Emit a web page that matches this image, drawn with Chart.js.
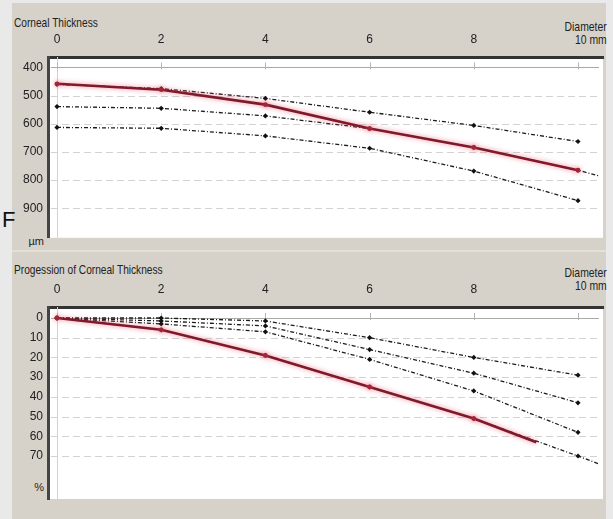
<!DOCTYPE html>
<html>
<head>
<meta charset="utf-8">
<script src="https://cdn.jsdelivr.net/npm/chart.js@4.4.1/dist/chart.umd.min.js"></script>
<style>
  body {
    margin: 0;
    width: 613px;
    height: 519px;
    position: relative;
    overflow: hidden;
    background: #e9e9e9;
    font-family: "Liberation Sans", Arial, sans-serif;
    color: #222;
  }
  #painel { position: absolute; left: 12px; top: 3px; width: 594px; height: 516px; background: #d6d2ca; }
  #separador { position: absolute; left: 12px; top: 250px; width: 594px; height: 2px; background: #e3e0da; }
  canvas { position: absolute; left: 0; }
  #graficoEspessura { top: 0; }
  #graficoProgressao { top: 250px; }
  .titulo { position: absolute; left: 14px; font-size: 13px; transform: scaleX(0.78); transform-origin: 0 0; white-space: nowrap; }
  .diametro { position: absolute; right: 6px; text-align: right; font-size: 13px; line-height: 13px; transform: scaleX(0.8); transform-origin: 100% 0; }
  .unidade { position: absolute; right: 569px; font-size: 11px; }
  #letraF { position: absolute; left: 2px; top: 207px; font: 22px "Liberation Sans", sans-serif; color: #111; }
</style>
</head>
<body>
<div id="painel"></div>
<div id="separador"></div>

<div class="titulo" style="top:15px">Corneal Thickness</div>
<div class="diametro" style="top:20px">Diameter<br>10 mm</div>
<div class="unidade" style="top:235px">µm</div>

<div class="titulo" style="top:262px">Progession of Corneal Thickness</div>
<div class="diametro" style="top:266px">Diameter<br>10 mm</div>
<div class="unidade" style="top:481px">%</div>

<div id="letraF">F</div>

<canvas id="graficoEspessura" width="613" height="250"></canvas>
<canvas id="graficoProgressao" width="613" height="269"></canvas>

<script>
// diametro em mm (eixo x dos dois graficos)
const diametros = [0, 2, 4, 6, 8, 10];
const diametrosExt = [0, 2, 4, 6, 8, 10, 10.4];
const diametrosPaciente = [0, 2, 4, 6, 8, 9.2];
const diametroTicks = [0, 2, 4, 6, 8, 10];

// espessura corneana (µm)
const espessuraTicks = [400, 500, 600, 700, 800, 900];
const espessuraSup = [460, 475, 510, 559, 606, 663];
const espessuraMedia = [539, 545, 572, 617, 684, 765, 785];
const espessuraInf = [613, 616, 643, 687, 768, 873];
const espessuraPaciente = [458, 479, 532, 617, 684, 765];

// progressao da espessura (%)
const progressaoTicks = [0, 10, 20, 30, 40, 50, 60, 70];
const progressaoA = [0, 0, 1.5, 10, 20, 29];
const progressaoB = [0, 1.5, 4, 16, 28, 43];
const progressaoC = [0, 3, 7, 21, 37, 58];
const progressaoD = [0, 6, 19, 35, 51, 70, 74];
const progressaoPaciente = [0, 6, 19, 35, 51, 63];

const fonte = "'Liberation Sans', Arial, sans-serif";

function pontos(xs, ys) {
  return xs.map((x, i) => ({ x: x, y: ys[i] }));
}

function serieTracejada(xs, ys) {
  return {
    data: pontos(xs, ys),
    borderColor: '#1c1c1c',
    borderWidth: 1.3,
    borderDash: [4, 2, 1, 2],
    pointStyle: 'rectRot',
    pointRadius: (ctx) => (ctx.raw && ctx.raw.x > 10 ? 0 : 2.6),
    pointBackgroundColor: '#111',
    pointBorderWidth: 0
  };
}

function seriePaciente(xs, ys) {
  return {
    data: pontos(xs, ys),
    borderColor: '#7e1a2a',
    borderWidth: 2.6,
    pointStyle: 'circle',
    pointRadius: (ctx) => (ctx.raw && ctx.raw.x > 8 && ctx.raw.x < 10 ? 0 : 2.4),
    pointBackgroundColor: '#a32538',
    pointBorderWidth: 0
  };
}

// fundo branco, grade tracejada, linha do zero no diametro e marquinhas no topo
const guias = {
  id: 'guias',
  beforeDraw(chart) {
    const { ctx, chartArea } = chart;
    ctx.save();
    ctx.fillStyle = '#ffffff';
    ctx.fillRect(chartArea.left, chartArea.top, chartArea.right - chartArea.left, chartArea.bottom - chartArea.top);
    ctx.restore();
  },
  beforeDatasetsDraw(chart, args, opts) {
    const { ctx, chartArea, scales } = chart;
    const x = scales.x, y = scales.y;
    ctx.save();
    ctx.lineWidth = 1;

    const x0 = Math.round(x.getPixelForValue(0)) + 0.5;
    ctx.strokeStyle = '#d2d2d2';
    ctx.beginPath();
    ctx.moveTo(x0, chartArea.top);
    ctx.lineTo(x0, chartArea.bottom);
    ctx.stroke();

    opts.linhas.forEach((v, i) => {
      const py = Math.round(y.getPixelForValue(v)) + 0.5;
      ctx.setLineDash(i === 0 ? [] : [7, 4]);
      ctx.strokeStyle = i === 0 ? '#a9a9a9' : '#d2d2d2';
      ctx.beginPath();
      ctx.moveTo(chartArea.left + 3, py);
      ctx.lineTo(chartArea.right - 4, py);
      ctx.stroke();
    });

    ctx.setLineDash([]);
    ctx.strokeStyle = '#b5b5b5';
    const yTopo = y.getPixelForValue(opts.linhas[0]);
    diametroTicks.forEach((d) => {
      const px = Math.round(x.getPixelForValue(d)) + 0.5;
      ctx.beginPath();
      ctx.moveTo(px, yTopo - 5);
      ctx.lineTo(px, yTopo + 2);
      ctx.stroke();
    });
    ctx.restore();
  }
};

// brilho rosado na linha vermelha (dataset 0)
const brilho = {
  id: 'brilho',
  beforeDatasetDraw(chart, args) {
    if (args.index !== 0) return;
    chart.ctx.save();
    chart.ctx.shadowColor = 'rgba(235, 90, 115, 0.75)';
    chart.ctx.shadowBlur = 5;
  },
  afterDatasetDraw(chart, args) {
    if (args.index !== 0) return;
    chart.ctx.restore();
  }
};

function montarGrafico(id, datasets, yMin, yMax, yTicks, paddingBottom) {
  return new Chart(document.getElementById(id), {
    type: 'line',
    data: { datasets: datasets },
    plugins: [guias, brilho],
    options: {
      responsive: false,
      animation: false,
      events: [],
      layout: { padding: { left: 0, right: 10, top: 0, bottom: paddingBottom } },
      plugins: {
        legend: { display: false },
        tooltip: { enabled: false },
        guias: { linhas: yTicks }
      },
      scales: {
        x: {
          type: 'linear',
          position: 'top',
          min: -0.173,
          max: 10.48,
          afterFit: (s) => { s.height = 57; },
          afterBuildTicks: (s) => { s.ticks = diametroTicks.map((v) => ({ value: v })); },
          grid: { display: false, drawTicks: false },
          border: { display: true, color: '#333', width: 3 },
          ticks: {
            padding: 10,
            color: '#222',
            font: { family: fonte, size: 12 },
            callback: (v) => (v === 10 ? '' : v)
          }
        },
        y: {
          type: 'linear',
          reverse: true,
          min: yMin,
          max: yMax,
          afterFit: (s) => { s.width = 48; },
          afterBuildTicks: (s) => { s.ticks = yTicks.map((v) => ({ value: v })); },
          grid: { display: false, drawTicks: false },
          border: { display: true, color: '#444', width: 3 },
          ticks: {
            padding: 5,
            color: '#222',
            font: { family: fonte, size: 12 }
          }
        }
      }
    }
  });
}

montarGrafico('graficoEspessura', [
  seriePaciente(diametros, espessuraPaciente),
  serieTracejada(diametros, espessuraSup),
  serieTracejada(diametrosExt, espessuraMedia),
  serieTracejada(diametros, espessuraInf)
], 362.8, 1005, espessuraTicks, 2);

montarGrafico('graficoProgressao', [
  seriePaciente(diametrosPaciente, progressaoPaciente),
  serieTracejada(diametros, progressaoA),
  serieTracejada(diametros, progressaoB),
  serieTracejada(diametros, progressaoC),
  serieTracejada(diametrosExt, progressaoD)
], -5.58, 91.8, progressaoTicks, 20);
</script>
</body>
</html>
